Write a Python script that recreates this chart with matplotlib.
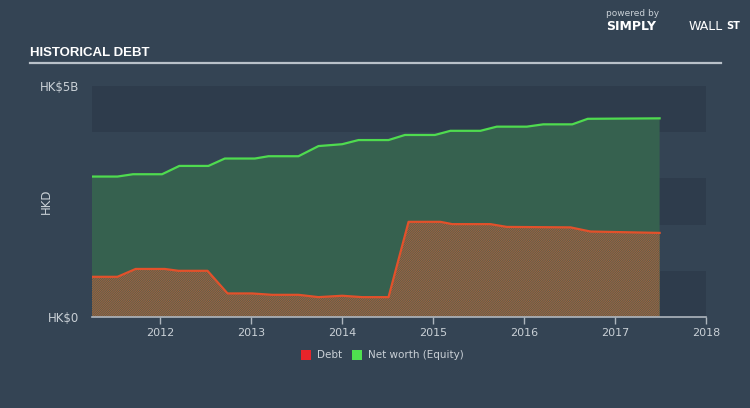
import matplotlib
matplotlib.use("Agg")
import matplotlib.pyplot as plt
from matplotlib.patches import Rectangle
from matplotlib.lines import Line2D

# ---- data (HK$ billions, decimal years) ----
equity_dates = [2011.25, 2011.53, 2011.70, 2012.02, 2012.21, 2012.53, 2012.71, 2013.04, 2013.19,
                2013.52, 2013.74, 2014.00, 2014.18, 2014.51, 2014.69, 2015.02, 2015.19, 2015.52,
                2015.70, 2016.03, 2016.21, 2016.53, 2016.70, 2017.49]
equity_values = [3.04, 3.04, 3.09, 3.09, 3.27, 3.27, 3.43, 3.43, 3.48,
                 3.48, 3.70, 3.74, 3.83, 3.83, 3.94, 3.94, 4.03, 4.03,
                 4.12, 4.12, 4.17, 4.17, 4.29, 4.30]

debt_dates = [2011.25, 2011.53, 2011.73, 2012.05, 2012.20, 2012.52, 2012.74, 2013.01, 2013.23,
              2013.52, 2013.74, 2014.00, 2014.22, 2014.51, 2014.73, 2015.08, 2015.21, 2015.63,
              2015.81, 2016.51, 2016.73, 2017.49]
debt_values = [0.87, 0.87, 1.04, 1.04, 1.00, 1.00, 0.51, 0.51, 0.48,
               0.48, 0.43, 0.46, 0.43, 0.43, 2.06, 2.06, 2.01, 2.01,
               1.95, 1.94, 1.85, 1.82]

year_ticks = [2012, 2013, 2014, 2015, 2016, 2017, 2018]
y_tick_values = [0, 5]
y_tick_labels = ["HK$0", "HK$5B"]
series_names = ["Debt", "Net worth (Equity)"]

# ---- style ----
BG = "#344454"
BAND_DARK = "#2e3c4c"
EQ_FILL = "#36614f"
EQ_LINE = "#4fdb4f"
DEBT_LINE = "#e2512b"
DEBT_HATCH = "#b8603a"
TXT = "#c9d0d6"

plt.rcParams["hatch.linewidth"] = 0.55
plt.rcParams["font.family"] = ["DejaVu Sans"]

fig = plt.figure(figsize=(7.5, 4.08), dpi=100, facecolor=BG)
ax = fig.add_axes([92 / 750, (408 - 317) / 408, (706 - 92) / 750, (317 - 86) / 408])
ax.set_facecolor(BG)
x0, x1 = 2011.25, 2018.0
ax.set_xlim(x0, x1)
ax.set_ylim(0, 5)

# bands
for i in range(5):
    if i % 2 == 0:
        ax.add_patch(Rectangle((x0, i), x1 - x0, 1, facecolor=BAND_DARK, edgecolor="none", zorder=0))

ax.fill_between(equity_dates, 0, equity_values, facecolor=EQ_FILL, edgecolor="none", zorder=1)
ax.plot(equity_dates, equity_values, color=EQ_LINE, lw=1.6, zorder=4, solid_joinstyle="round")
ax.fill_between(debt_dates, 0, debt_values, facecolor="#4a6150", edgecolor=DEBT_HATCH,
                hatch="///////////////", linewidth=0, zorder=2)
ax.plot(debt_dates, debt_values, color=DEBT_LINE, lw=1.6, zorder=4, solid_joinstyle="round")

for s in ["top", "right", "left"]:
    ax.spines[s].set_visible(False)
ax.spines["bottom"].set_color("#aeb6be")
ax.spines["bottom"].set_linewidth(1.2)
ax.set_xticks(year_ticks)
ax.set_xticklabels([str(y) for y in year_ticks])
ax.tick_params(axis="x", colors="#aeb6be", length=5, width=1, labelcolor=TXT, labelsize=8, pad=3)
ax.set_yticks(y_tick_values)
ax.set_yticklabels(y_tick_labels)
ax.tick_params(axis="y", length=0, labelcolor=TXT, labelsize=8.5, pad=9)
ax.set_ylabel("HKD", color=TXT, fontsize=8.5)
ax.yaxis.set_label_coords((53 - 92) / 614, 0.5)

# title
fig.text(30 / 750, 1 - 53 / 408, "HISTORICAL DEBT", color="white", fontsize=9.5,
         fontweight="bold", va="center", ha="left",
         family=["Liberation Sans", "DejaVu Sans"])
fig.add_artist(Line2D([30 / 750, 721 / 750], [1 - 63 / 408, 1 - 63 / 408],
                      color="#b9c1c9", lw=1.6))

# logo text
fig.text(606 / 750, 1 - 14 / 408, "powered by", color="#c9d0d6", fontsize=6.5, va="center", ha="left")
fig.text(606 / 750, 1 - 27 / 408, "SIMPLY", color="white", fontsize=9, fontweight="bold",
         va="center", ha="left")
fig.text(689 / 750, 1 - 27 / 408, "WALL", color="white", fontsize=9, va="center", ha="left")
fig.text(726 / 750, 1 - 26 / 408, "ST", color="white", fontsize=7, fontweight="bold",
         va="center", ha="left")

# legend
fig.add_artist(Rectangle((301 / 750, 1 - 360 / 408), 10 / 750, 10 / 408, facecolor="#e8242a",
                         edgecolor="none", transform=fig.transFigure))
fig.text(317 / 750, 1 - 355 / 408, series_names[0], color=TXT, fontsize=7.5, va="center", ha="left")
fig.add_artist(Rectangle((352 / 750, 1 - 360 / 408), 10 / 750, 10 / 408, facecolor="#4fe04f",
                         edgecolor="none", transform=fig.transFigure))
fig.text(368 / 750, 1 - 355 / 408, series_names[1], color=TXT, fontsize=7.5, va="center", ha="left")

fig.savefig("out.png", dpi=100, facecolor=BG)
